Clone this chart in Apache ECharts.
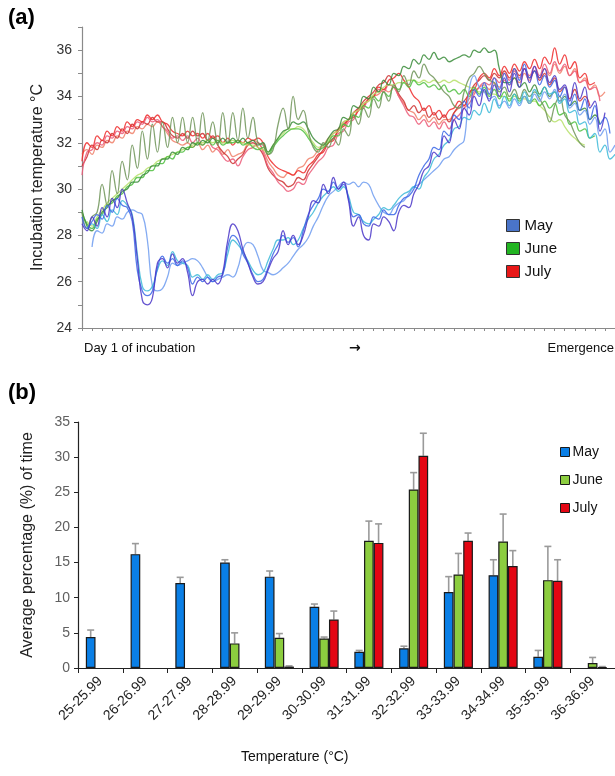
<!DOCTYPE html>
<html><head><meta charset="utf-8">
<script src="https://cdn.jsdelivr.net/npm/echarts@6/dist/echarts.min.js"></script>
<style>
html,body{margin:0;padding:0;background:#fff;}
#a{position:absolute;left:0;top:0;width:615px;height:370px;}
#b{position:absolute;left:0;top:370px;width:615px;height:406px;}
</style>
</head><body><div id="a"></div><div id="b"></div>
<script>
// ---------- Panel (a): incubation temperature traces ----------
const may1 = [28.5,28.2,28.8,28.4,29.2,28.8,29.6,29.2,30.0,29.4,
 28.8,27.0,25.2,25.0,25.3,26.8,27.0,26.6,27.2,26.8,
 27.0,26.4,25.4,26.0,26.1,25.9,26.1,25.9,26.4,27.8,
 28.5,28.2,27.4,26.8,26.2,25.9,26.0,26.5,27.0,27.3,
 28.2,27.6,28.0,27.6,28.0,28.8,29.5,29.4,30.2,29.8,
 30.5,30.0,30.3,29.5,28.4,28.8,28.0,27.8,28.5,28.4,
 28.8,28.6,28.2,29.0,29.3,29.2,29.8,30.2,30.8,31.0,
 31.6,31.4,32.3,32.0,33.0,32.6,33.5,33.2,34.0,33.6,
 34.3,33.8,34.5,34.0,34.8,34.2,35.0,34.4,35.2,34.6,
 35.3,34.8,35.2,34.6,34.9,34.3,34.5,33.8,34.6,33.9,
 34.4,33.5,33.8,32.5,33.3];
const may2 = [28.8,28.3,28.6,28.9,28.7,29.3,29.0,29.6,29.3,29.2,
 28.6,26.5,25.6,25.4,25.6,26.6,27.1,26.8,27.0,26.7,
 26.9,26.6,25.9,26.2,26.0,26.2,26.0,26.2,26.3,27.5,
 28.0,27.8,27.2,26.8,26.3,26.0,26.1,26.6,27.2,27.6,
 28.0,27.7,27.9,27.5,28.2,28.9,29.3,29.6,30.0,29.9,
 30.3,30.0,30.2,29.6,28.8,28.9,28.5,28.4,28.8,28.7,
 29.1,28.9,28.9,29.3,29.6,29.7,30.0,30.6,31.0,31.3,
 31.8,31.7,32.5,32.3,33.2,33.0,33.8,33.5,34.3,34.0,
 34.6,34.1,34.8,34.3,35.0,34.5,35.2,34.7,35.4,34.8,
 35.1,34.5,34.9,34.4,34.7,34.0,34.4,33.6,34.1,33.4,
 33.9,33.0,33.6,32.8,33.1,32.4];
const may3 = [null,28.3,28.5,28.3,28.9,28.6,29.1,28.9,29.5,29.3,
 28.9,27.2,25.8,25.6,25.8,26.5,26.9,26.7,27.3,26.9,
 26.8,26.7,26.2,26.3,26.1,26.3,26.1,26.3,26.4,27.2,
 27.8,27.6,27.3,26.9,26.5,26.3,26.4,26.9,27.4,27.8,
 27.8,27.9,27.6,27.8,28.3,28.7,29.0,29.4,29.7,29.9,
 30.1,29.9,30.1,29.7,29.0,28.9,28.6,28.5,28.7,28.9,
 29.2,29.1,29.3,29.6,29.8,29.9,30.1,30.0,30.5,30.8,
 31.3,31.5,31.9,32.1,32.6,32.7,33.1,33.0,33.4,33.2,
 33.7,33.3,33.9,33.5,34.0,33.6,34.1,33.7,34.2,33.8,
 34.3,34.0,34.4,34.1,34.2,33.7,33.9,33.3,33.4,32.8,
 32.9,32.2,32.4,31.6,31.9,31.3,31.5];
const may4 = [null,null,27.5,28.2,28.1,28.5,28.4,28.8,28.7,29.0,
 29.1,29.0,28.9,27.8,25.8,25.6,25.7,26.2,26.8,26.7,
 26.8,26.9,27.0,26.9,26.6,26.2,26.0,26.1,26.2,26.3,
 26.2,26.6,27.4,27.7,27.6,27.1,26.5,26.4,26.3,26.4,
 26.6,26.8,27.1,27.4,27.6,27.9,28.4,28.8,29.3,29.7,
 29.9,30.1,30.3,30.2,30.3,30.1,30.3,30.2,29.7,29.3,
 29.0,28.9,29.2,29.4,29.5,29.8,30.1,30.2,30.4,30.6,
 30.8,31.0,31.3,31.4,31.7,31.9,32.1,34.3,34.9,34.4,
 34.2,33.9,34.0,33.6,33.8,33.5,33.9,33.6,34.0,33.7,
 34.1,33.8,34.2,33.9,34.3,33.8,34.1,33.5,33.7,33.2,
 33.4,32.8,33.1,32.3,32.6,31.6,31.9];

const june1 = [29.0,28.3,28.8,29.0,30.2,29.3,30.8,29.8,31.2,30.4,
 31.9,30.9,32.5,31.3,32.8,31.6,32.9,31.8,33.1,32.0,
 33.1,32.0,33.1,32.0,33.3,32.1,32.9,31.9,33.3,32.0,
 33.3,32.1,33.5,32.2,33.1,32.0,31.9,31.5,31.7,32.8,
 33.5,32.6,34.0,33.0,33.4,32.5,31.8,31.6,32.0,31.8,
 32.2,31.9,32.6,32.3,33.2,32.8,33.5,33.1,33.9,33.5,
 34.2,33.8,34.5,34.2,34.9,34.5,35.1,34.8,35.4,35.0,
 34.8,34.5,34.2,34.0,33.6,33.5,34.2,34.8,35.0,35.3,
 35.0,34.7,34.6,34.2,34.4,34.0,34.3,33.9,34.3,34.0,
 34.2,33.9,33.5,32.9,33.6,34.0,33.2,32.9,32.4,32.0,
 31.8];
const june2 = [29.1,28.4,28.2,28.6,29.0,29.2,29.5,29.6,29.9,30.0,
 30.3,30.3,30.6,30.7,31.0,31.0,31.3,31.3,31.6,31.5,
 31.8,31.7,32.0,31.9,32.1,32.0,32.2,32.0,32.2,32.0,
 32.2,32.0,32.2,32.0,32.1,31.9,32.0,31.6,31.9,32.2,
 32.5,32.6,32.9,32.8,32.9,32.6,32.2,32.0,31.9,32.2,
 32.5,32.6,33.1,33.0,33.6,33.5,34.0,33.9,34.4,34.2,
 34.7,34.5,35.0,34.9,35.3,35.2,35.6,35.4,35.8,35.6,
 35.9,35.6,35.7,35.5,35.6,35.7,35.8,35.7,36.0,35.9,
 36.1,35.9,36.0,35.2,34.6,34.6,34.8,34.4,34.6,34.2,
 34.5,34.1,34.4,34.0,34.2,33.8,34.0,33.6,33.8,33.4,
 33.5,33.0,33.2,32.8];
const june3 = [29.0,28.5,28.3,28.7,28.9,29.3,29.4,29.7,29.8,30.1,
 30.2,30.5,30.5,30.8,30.8,31.1,31.1,31.4,31.3,31.6,
 31.6,31.8,31.8,32.0,31.9,32.1,31.9,32.1,31.9,32.0,
 32.0,32.1,31.9,32.0,31.8,31.7,31.8,31.5,31.8,32.1,
 32.3,32.5,32.6,32.6,32.5,32.2,31.9,31.7,31.8,32.0,
 32.3,32.3,32.8,32.7,33.2,33.1,33.6,33.5,34.0,33.8,
 34.2,34.0,34.4,34.3,34.6,34.4,34.7,34.5,34.6,34.4,
 34.5,34.3,34.5,34.2,34.3,34.1,34.3,34.0,34.4,34.1,
 34.4,34.0,34.3,33.9,34.2,33.8,34.1,33.8,34.0,33.7,
 33.9,33.6,33.8,33.5,33.7,33.2,33.3,32.8,32.9,32.5,
 32.6,32.2,32.3];
const june4 = [null,28.6,28.4,28.8,29.1,29.4,29.6,29.8,30.0,30.2,
 30.4,30.6,30.7,30.9,31.0,31.2,31.3,31.4,31.5,31.6,
 31.7,31.8,31.9,32.0,32.0,32.1,32.0,32.1,32.0,32.0,
 32.1,32.0,32.0,31.9,31.9,31.8,31.7,31.6,31.9,32.2,
 32.4,32.6,32.6,32.7,32.6,32.3,32.0,31.8,31.9,32.1,
 32.4,32.5,32.9,33.0,33.3,33.4,33.7,33.8,34.1,34.2,
 34.4,34.5,34.5,34.6,34.6,34.7,34.7,34.6,34.7,34.6,
 34.7,34.6,34.7,34.6,34.7,34.6,34.5,34.4,34.3,34.2,
 34.2,34.1,34.1,34.0,34.0,33.9,34.0,33.9,33.9,33.8,
 33.8,33.6,33.4,33.1,32.9,33.0,32.7,32.4,32.2,32.0,
 31.9];

const july1 = [31.2,32.0,31.8,32.3,32.1,32.5,32.3,32.7,32.5,32.9,
 32.7,33.0,32.9,33.2,33.0,33.2,32.9,32.8,32.5,32.4,
 32.3,32.5,32.3,32.4,32.2,32.4,32.2,32.3,32.0,32.2,
 31.9,32.1,32.0,32.2,32.1,32.2,32.0,31.4,31.1,30.9,
 30.8,30.7,30.6,30.8,30.7,31.0,31.2,31.5,31.6,32.0,
 32.1,32.6,32.7,33.0,33.1,33.4,33.6,33.9,34.0,34.4,
 34.3,34.7,34.8,35.0,34.7,34.4,34.0,33.8,33.4,33.6,
 33.2,33.4,33.1,33.4,33.5,33.8,33.6,34.2,34.3,34.8,
 35.0,34.8,35.2,34.9,35.3,35.0,35.4,35.1,35.5,35.2,
 35.6,35.2,35.7,35.4,36.1,35.4,35.8,35.2,35.5,34.8,
 35.0,34.5,34.6];
const july2 = [30.6,31.6,31.7,32.0,31.9,32.3,32.2,32.5,32.4,32.7,
 32.6,32.9,32.8,33.1,32.9,33.0,32.7,32.5,32.2,32.3,
 32.1,32.3,32.0,32.2,31.9,32.1,31.8,31.7,31.4,31.2,
 31.3,31.0,31.4,31.7,31.8,32.0,31.6,31.0,30.7,30.3,
 30.1,29.9,30.0,30.3,30.2,30.6,30.9,31.2,31.4,31.8,
 31.9,32.4,32.5,32.9,33.0,33.4,33.5,33.9,34.0,34.3,
 34.2,34.5,34.4,34.0,33.6,33.2,33.1,32.8,33.0,32.7,
 32.9,32.6,32.9,32.6,33.0,33.2,33.5,33.7,34.1,34.4,
 34.6,34.5,34.8,34.6,35.0,34.7,35.1,34.8,35.2,34.9,
 35.3,34.9,35.4,35.0,35.5,35.1,35.4,34.9,35.1,34.6,
 34.7,34.3,34.4,33.8];
const july3 = [31.0,31.4,31.9,31.7,32.1,32.0,32.4,32.2,32.6,32.4,
 32.8,32.6,32.9,32.8,33.1,32.9,32.9,32.6,32.3,32.2,
 32.4,32.2,32.5,32.3,32.4,32.1,32.3,31.9,31.6,31.4,
 31.1,31.3,31.5,31.9,32.0,31.8,31.5,30.9,30.6,30.4,
 30.3,30.1,30.2,30.5,30.4,30.8,31.1,31.4,31.7,32.0,
 32.2,32.5,32.8,33.0,33.3,33.5,33.8,34.0,34.2,34.5,
 34.6,34.9,34.6,34.1,33.8,33.4,33.6,33.3,33.5,33.1,
 33.3,33.0,33.2,32.9,33.3,33.6,33.8,34.1,34.5,34.7,
 34.9,34.7,35.0,34.8,35.1,34.8,35.2,34.9,35.2,34.8,
 35.1,34.7,35.0,34.5,34.8,34.2,34.4,33.9,34.3,33.8,
 34.0,33.6];
const july4 = [31.5,31.7,31.5,31.9,31.8,32.1,32.0,32.3,32.2,32.5,
 32.4,32.7,32.6,32.8,32.7,32.9,32.7,32.4,32.1,32.0,
 31.9,32.0,31.8,32.0,31.7,31.9,31.6,31.8,31.5,31.7,
 31.4,31.5,31.6,32.0,32.1,32.0,31.7,31.2,30.9,30.6,
 30.5,30.7,30.6,30.9,31.0,31.3,31.4,31.7,31.9,32.2,
 32.4,32.6,32.9,33.0,33.3,33.4,33.7,33.8,34.0,34.1,
 34.3,34.2,34.4,34.0,33.7,33.4,33.3,33.0,33.2,32.9,
 33.1,32.8,33.0,33.0,33.3,33.5,33.6,33.9,34.2,34.4,
 34.5,34.3,34.6,34.4,34.7,34.5,34.8,34.6,35.0,34.7,
 35.1,34.8,35.2,34.9,35.4,35.0,35.3,34.9,35.2,34.6,
 34.8,34.3,34.5,34.0,34.2];

const traces = [
  {month:'July', data:july4, color:'#f0806a'},
  {month:'July', data:july3, color:'#cc2f2f'},
  {month:'July', data:july2, color:'#ec5a78'},
  {month:'July', data:july1, color:'#ee2a2a'},
  {month:'June', data:june4, color:'#b6e06a'},
  {month:'June', data:june3, color:'#4fc040'},
  {month:'June', data:june2, color:'#3a8c3a'},
  {month:'June', data:june1, color:'#6e9458'},
  {month:'May', data:may4, color:'#6f9cf0'},
  {month:'May', data:may3, color:'#3cbad8'},
  {month:'May', data:may2, color:'#3a66e6'},
  {month:'May', data:may1, color:'#4a36c8'}
];
const steps = [];
for (let i = 0; i < 107; i++) steps.push(String(i));
const tempTicks = [24, 26, 28, 30, 32, 34, 36];

const font = '"Liberation Sans", Arial, sans-serif';

const chartA = echarts.init(document.getElementById('a'));
chartA.setOption({
  animation: false,
  backgroundColor: '#fff',
  textStyle: {fontFamily: font},
  grid: {left: 82, top: 27, width: 533, height: 301},
  xAxis: {
    type: 'category', data: steps, boundaryGap: false,
    axisLine: {lineStyle: {color: '#8a8a8a', width: 1.2}},
    axisTick: {show: true, interval: 1, length: 3, lineStyle: {color: '#8a8a8a'}},
    axisLabel: {show: false}, splitLine: {show: false}
  },
  yAxis: {
    type: 'value', min: 24, max: 37, interval: 1,
    name: 'Incubation temperature °C', nameLocation: 'middle', nameGap: 36,
    nameTextStyle: {fontSize: 16, color: '#222', fontFamily: font},
    axisLine: {show: true, lineStyle: {color: '#8a8a8a', width: 1.2}},
    axisTick: {show: true, length: 4, lineStyle: {color: '#8a8a8a'}},
    axisLabel: {fontSize: 14, color: '#333', margin: 10,
      formatter: v => tempTicks.indexOf(v) >= 0 ? String(v) : ''},
    splitLine: {show: false}
  },
  legend: {
    orient: 'vertical', left: 501, top: 213, itemWidth: 13, itemHeight: 12, itemGap: 8,
    textStyle: {fontSize: 15, color: '#111', fontFamily: font},
    data: [
      {name: 'May', icon: 'rect', itemStyle: {color: '#4a74c8', borderColor: '#333', borderWidth: 1}},
      {name: 'June', icon: 'rect', itemStyle: {color: '#22b422', borderColor: '#333', borderWidth: 1}},
      {name: 'July', icon: 'rect', itemStyle: {color: '#e81818', borderColor: '#333', borderWidth: 1}}
    ]
  },
  series: traces.map(t => ({
    type: 'line', name: t.month, data: t.data, smooth: 0.45, symbol: 'none',
    lineStyle: {width: 1.3, color: t.color, opacity: 0.85}, itemStyle: {color: t.color},
    emphasis: {disabled: true}
  })),
  graphic: [
    {type: 'text', left: 8, top: 7, style: {text: '(a)', font: 'bold 22px ' + font, fill: '#000'}},
    {type: 'text', left: 84, top: 342, style: {text: 'Day 1 of incubation', font: '13px ' + font, fill: '#111'}},
    {type: 'text', left: 349, top: 341, style: {text: '→', font: 'bold 14px "DejaVu Sans"', fill: '#111'}},
    {type: 'text', right: 1, top: 342, style: {text: 'Emergence', font: '13px ' + font, fill: '#111'}}
  ]
});

// ---------- Panel (b): time spent in temperature classes ----------
const classes = ['25-25.99','26-26.99','27-27.99','28-28.99','29-29.99','30-30.99','31-31.99','32-32.99','33-33.99','34-34.99','35-35.99','36-36.99'];
const mayPct  = [4.4, 16.2, 12.1, 15.0, 13.0, 8.7, 2.3, 2.8, 10.8, 13.2, 1.6, null];
const junePct = [null, null, null, 3.5, 4.3, 4.2, 18.1, 25.4, 13.3, 18.0, 12.5, 0.7];
const julyPct = [null, null, null, null, 0.2, 6.9, 17.8, 30.2, 18.1, 14.5, 12.4, 0.12];
const mayErr  = [5.4, 17.7, 12.9, 15.4, 13.8, 9.1, 2.5, 3.1, 13.0, 15.4, 2.5, null];
const juneErr = [null, null, null, 5.0, 4.9, 4.4, 20.9, 27.8, 16.3, 21.9, 17.3, 1.5];
const julyErr = [null, null, null, null, 0.3, 8.1, 20.5, 33.4, 19.2, 16.7, 15.4, 0.2];
const pctTicks = [0, 5, 10, 15, 20, 25, 30, 35];

const barColors = {May: '#0a7fe6', June: '#8ccd3f', July: '#e30613'};
const catGap = 0.35;

function errSeries(name, vals, errs, slot) {
  const d = [];
  vals.forEach((v, i) => { if (v != null && errs[i] != null) d.push([i, v, errs[i]]); });
  return {
    type: 'custom', name: name + ' error', data: d, z: 1, silent: true,
    renderItem: function (params, api) {
      const i = api.value(0), v = api.value(1), e = api.value(2);
      const cw = api.size([1, 0])[0];
      const bw = cw * (1 - catGap) / 3;
      const p0 = api.coord([i, v]);
      const p1 = api.coord([i, e]);
      const x = p0[0] + (slot - 1) * bw;
      const st = {stroke: '#9a9a9a', lineWidth: 1.6};
      return {type: 'group', children: [
        {type: 'line', shape: {x1: x, y1: p0[1], x2: x, y2: p1[1]}, style: st},
        {type: 'line', shape: {x1: x - 3.5, y1: p1[1], x2: x + 3.5, y2: p1[1]}, style: st}
      ]};
    }
  };
}
function barSeries(name, vals) {
  return {
    type: 'bar', name: name, data: vals, barGap: '0%', barCategoryGap: (catGap * 100) + '%', z: 2,
    itemStyle: {color: barColors[name], borderColor: '#1a1a1a', borderWidth: 1.2},
    emphasis: {disabled: true}
  };
}

const chartB = echarts.init(document.getElementById('b'));
chartB.setOption({
  animation: false,
  backgroundColor: '#fff',
  textStyle: {fontFamily: font},
  grid: {left: 78, top: 52, width: 538, height: 246},
  xAxis: {
    type: 'category', data: classes,
    axisLine: {lineStyle: {color: '#222', width: 1.2}},
    axisTick: {show: true, length: 5, alignWithLabel: false, lineStyle: {color: '#222'}},
    axisLabel: {rotate: 45, fontSize: 14, color: '#222', margin: 11, interval: 0},
    splitLine: {show: false}
  },
  yAxis: {
    type: 'value', min: 0, max: 35, interval: 5,
    name: 'Average percentage (%) of time', nameLocation: 'middle', nameGap: 42,
    nameTextStyle: {fontSize: 16, color: '#222', fontFamily: font},
    axisLine: {show: true, lineStyle: {color: '#222', width: 1.2}},
    axisTick: {show: true, length: 4, lineStyle: {color: '#222'}},
    axisLabel: {fontSize: 14, color: '#606060', margin: 8,
      formatter: v => pctTicks.indexOf(v) >= 0 ? String(v) : ''},
    splitLine: {show: false}
  },
  legend: {
    orient: 'vertical', left: 555, top: 70, itemWidth: 9, itemHeight: 9, itemGap: 14,
    textStyle: {fontSize: 14, color: '#111', fontFamily: font, padding: [0, 0, 0, -2]},
    data: [
      {name: 'May', icon: 'rect', itemStyle: {color: barColors.May, borderColor: '#1a1a1a', borderWidth: 1}},
      {name: 'June', icon: 'rect', itemStyle: {color: barColors.June, borderColor: '#1a1a1a', borderWidth: 1}},
      {name: 'July', icon: 'rect', itemStyle: {color: barColors.July, borderColor: '#1a1a1a', borderWidth: 1}}
    ]
  },
  series: [
    errSeries('May', mayPct, mayErr, 0),
    errSeries('June', junePct, juneErr, 1),
    errSeries('July', julyPct, julyErr, 2),
    barSeries('May', mayPct),
    barSeries('June', junePct),
    barSeries('July', julyPct)
  ],
  graphic: [
    {type: 'text', left: 8, top: 12, style: {text: '(b)', font: 'bold 22px ' + font, fill: '#000'}},
    {type: 'text', left: 241, top: 380, style: {text: 'Temperature (°C)', font: '14px ' + font, fill: '#111'}}
  ]
});
</script></body></html>
